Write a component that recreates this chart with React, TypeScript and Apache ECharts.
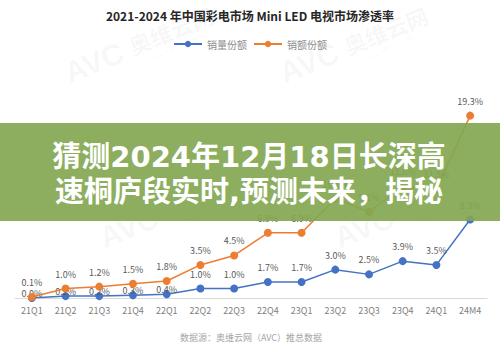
import React, { useEffect, useRef } from "react";
import * as echarts from "echarts";

const categories = ["21Q1", "21Q2", "21Q3", "21Q4", "22Q1", "22Q2", "22Q3", "22Q4", "23Q1", "23Q2", "23Q3", "23Q4", "24Q1", "24M4"];
const volumeShare = [0.0, 0.2, 0.2, 0.3, 0.4, 1.0, 1.0, 1.7, 1.7, 3.0, 2.5, 3.9, 3.5, 8.3];
const amountShare = [0.1, 1.0, 1.2, 1.5, 1.8, 3.5, 4.5, 6.9, 6.9, 10.5, 9.1, 11.8, 11.5, 19.3];
const seriesNames = ["销量份额", "销额份额"];
const chartTitle = "2021-2024 年中国彩电市场 Mini LED 电视市场渗透率";
const sourceText = "数据源：奥维云网（AVC）推总数据";
const bannerLines = ["猜测2024年12月18日长深高", "速桐庐段实时,预测未来，揭秘"];
// blue labels that sit tight on their points (low values at the start)
const tightLabelCount = 5;

const CJK = "'Noto Sans CJK SC', 'Noto Sans', sans-serif";
const BANNER_FONT = "'DejaVu Sans', 'Noto Sans CJK SC', sans-serif";

export default function App() {
  const ref = useRef<HTMLDivElement>(null);
  useEffect(() => {
    if (!ref.current) return;
    const chart = echarts.init(ref.current, null, { renderer: "svg" });
    const labelCfg = {
      show: true,
      position: "top" as const,
      distance: 6,
      color: "#595959",
      fontSize: 9,
      fontFamily: CJK,
      formatter: (p: any) => Number(p.value).toFixed(1) + "%",
    };
    const blueData = volumeShare.map((v, i) =>
      i < tightLabelCount ? { value: v, label: { distance: -4 } } : v
    );
    const watermark = (x: number, y: number) => ({
      type: "group",
      x,
      y,
      rotation: 0.38,
      z: 1,
      children: [
        { type: "text", x: 0, y: 0, style: { text: "AVC", fontSize: 30, fontWeight: "bold", fontFamily: "Liberation Sans", fill: "rgba(0,0,0,0.045)" } },
        { type: "text", x: 70, y: 2, style: { text: "奥维云网", fontSize: 22, fontWeight: "bold", fontFamily: CJK, fill: "rgba(0,0,0,0.045)" } },
        { type: "text", x: 86, y: 28, style: { text: "ALL VIEW CLOUD", fontSize: 7, fontFamily: "Liberation Sans", fill: "rgba(0,0,0,0.05)" } },
      ],
    });
    const bannerText = (text: string, y: number) => ({
      type: "text",
      z: 101,
      x: 249,
      y,
      style: {
        text,
        fontSize: 29,
        fontWeight: "bold",
        fill: "#ffffff",
        fontFamily: BANNER_FONT,
        textAlign: "center",
        textVerticalAlign: "middle",
      },
    });
    chart.setOption({
      animation: false,
      backgroundColor: "#ffffff",
      title: {
        text: chartTitle,
        left: "center",
        top: 4,
        textStyle: { fontSize: 12, fontWeight: "bold", color: "#262626", fontFamily: CJK },
      },
      legend: {
        top: 34,
        left: "center",
        itemWidth: 28,
        itemHeight: 8,
        itemGap: 6,
        textStyle: { fontSize: 10, color: "#8c8c8c", fontFamily: CJK },
        data: seriesNames,
      },
      grid: { left: 15, right: 13, top: 109, bottom: 50 },
      xAxis: {
        type: "category",
        data: categories,
        boundaryGap: true,
        axisLine: { lineStyle: { color: "#d9d9d9" } },
        axisTick: { show: false },
        axisLabel: { color: "#7f7f7f", fontSize: 9, margin: 8, fontFamily: CJK },
      },
      yAxis: { type: "value", min: 0, max: 20, show: false, splitLine: { show: false } },
      graphic: [
        watermark(60, 60),
        watermark(275, 60),
        watermark(95, 225),
        watermark(330, 225),
        {
          type: "text",
          x: 251,
          y: 337,
          style: { text: sourceText, fontSize: 9, fill: "#a6a6a6", fontFamily: CJK, textAlign: "center", textVerticalAlign: "middle" },
        },
        {
          type: "rect",
          z: 100,
          shape: { x: 0, y: 123, width: 500, height: 98 },
          style: { fill: "rgba(130,167,80,0.92)" },
        },
        bannerText(bannerLines[0], 157),
        bannerText(bannerLines[1], 192),
      ],
      series: [
        {
          name: seriesNames[0],
          type: "line",
          data: blueData,
          symbol: "circle",
          symbolSize: 8,
          itemStyle: { color: "#4472C4" },
          lineStyle: { width: 1.5, color: "#4472C4" },
          label: labelCfg,
          z: 3,
        },
        {
          name: seriesNames[1],
          type: "line",
          data: amountShare,
          symbol: "circle",
          symbolSize: 8,
          itemStyle: { color: "#ED7D31" },
          lineStyle: { width: 1.5, color: "#ED7D31" },
          label: labelCfg,
          z: 4,
        },
      ],
    });
    return () => chart.dispose();
  }, []);
  return <div ref={ref} style={{ position: "absolute", left: 0, top: 0, width: 500, height: 348 }} />;
}
